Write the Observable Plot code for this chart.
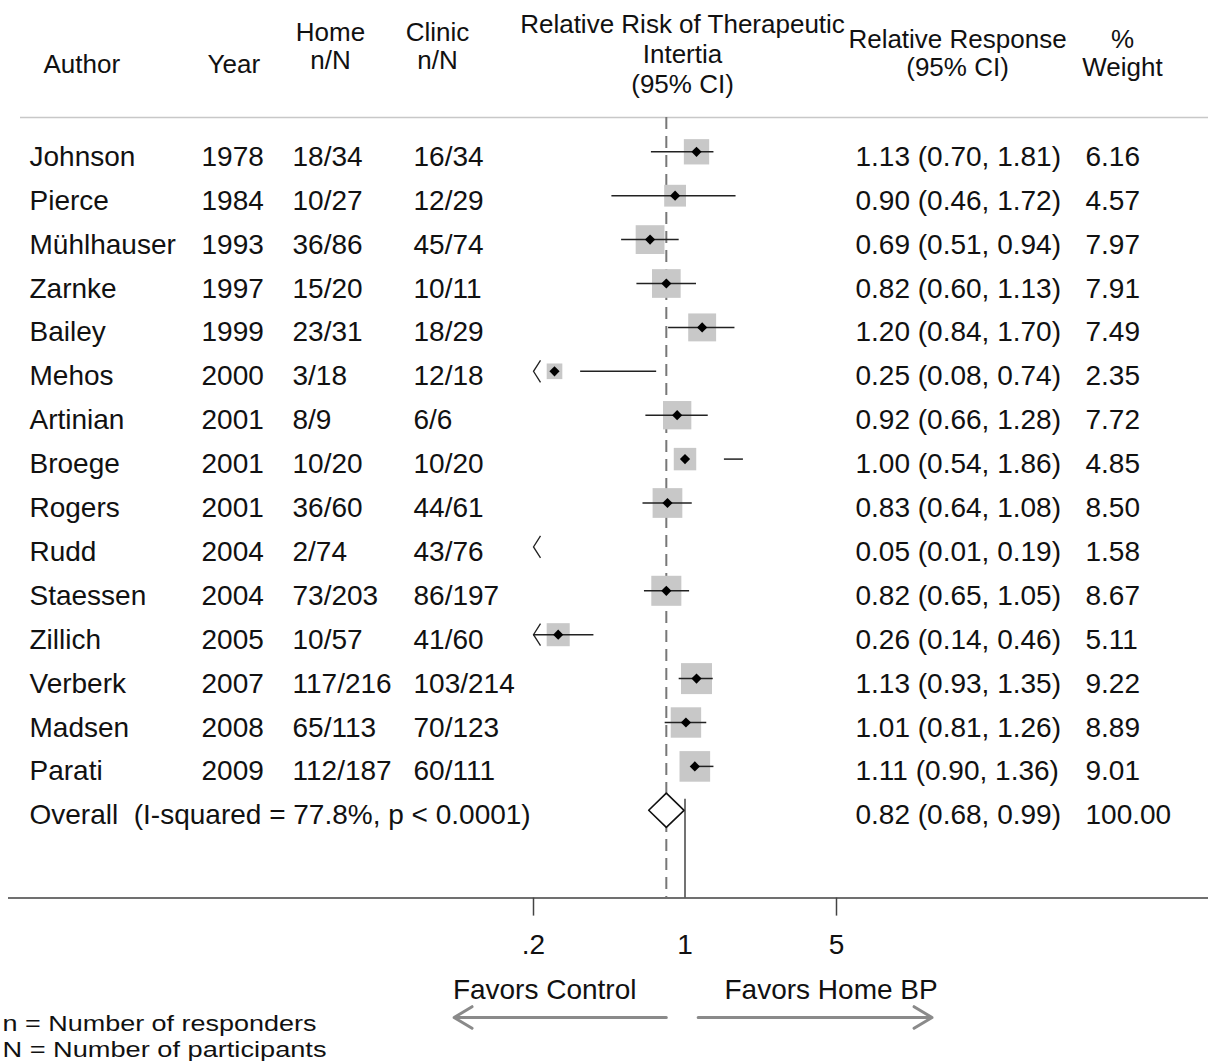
<!DOCTYPE html>
<html><head><meta charset="utf-8">
<script src="https://cdn.jsdelivr.net/npm/d3@7"></script>
<script src="https://cdn.jsdelivr.net/npm/@observablehq/plot@0.6"></script>
<style>body{margin:0;background:#fff;} #chart svg{display:block}</style>
</head><body><div id="chart"></div>
<script>
// ---- data ----
const authors = ["Johnson","Pierce","Mühlhauser","Zarnke","Bailey","Mehos","Artinian","Broege","Rogers","Rudd","Staessen","Zillich","Verberk","Madsen","Parati"];
const years = [1978,1984,1993,1997,1999,2000,2001,2001,2001,2004,2004,2005,2007,2008,2009];
const homeNN = ["18/34","10/27","36/86","15/20","23/31","3/18","8/9","10/20","36/60","2/74","73/203","10/57","117/216","65/113","112/187"];
const clinicNN = ["16/34","12/29","45/74","10/11","18/29","12/18","6/6","10/20","44/61","43/76","86/197","41/60","103/214","70/123","60/111"];
const relResp = [1.13,0.90,0.69,0.82,1.20,0.25,0.92,1.00,0.83,0.05,0.82,0.26,1.13,1.01,1.11];
const ciLow  = [0.70,0.46,0.51,0.60,0.84,0.08,0.66,0.54,0.64,0.01,0.65,0.14,0.93,0.81,0.90];
const ciHigh = [1.81,1.72,0.94,1.13,1.70,0.74,1.28,1.86,1.08,0.19,1.05,0.46,1.35,1.26,1.36];
const weights = [6.16,4.57,7.97,7.91,7.49,2.35,7.72,4.85,8.50,1.58,8.67,5.11,9.22,8.89,9.01];
// CI segments as they are visibly drawn in the picture (some are partly missing)
const drawnLow  = [0.70,0.46,0.51,0.60,0.84,0.33,0.66,1.52,0.64,null,0.65,0.20,0.94,0.81,1.11];
const drawnHigh = [1.36,1.72,0.94,1.13,1.70,0.74,1.28,1.86,1.08,null,1.05,0.38,1.35,1.26,1.36];
const overallLabel = "Overall\u00a0\u00a0(I-squared = 77.8%, p < 0.0001)";
const overallRR = 0.82, overallLow = 0.68, overallHigh = 0.99, overallWeight = 100.00;
const tickValues = [0.2, 1, 5];
const tickLabels = [".2", "1", "5"];
const favorsLabels = ["Favors Control", "Favors Home BP"];
const arrowFrom = [0.82, 1.15];
const arrowTo = [0.086, 13.8];
const footnotes = ["n = Number of responders", "N = Number of participants"];
const headers = {
  author: "Author", year: "Year", home: "Home\nn/N", clinic: "Clinic\nn/N",
  risk: "Relative Risk of Therapeutic\nIntertia\n(95% CI)",
  resp: "Relative Response\n(95% CI)", weight: "%\nWeight"
};

// ---- layout ----
const xMin = 0.2;
const overallRow = authors.length;        // 15
const axisRow = overallRow + 2;           // 17
const headerRow = -0.78;
const arrowRow = axisRow + 2.72;
const fmtTick = d => tickLabels[tickValues.indexOf(d)];
const f2 = v => v.toFixed(2);

const rows = authors.map((a, i) => ({
  row: i, author: a, year: String(years[i]), home: homeNN[i], clinic: clinicNN[i],
  rr: relResp[i], lo: ciLow[i], hi: ciHigh[i], w: weights[i],
  dLo: drawnLow[i], dHi: drawnHigh[i],
  resp: `${f2(relResp[i])} (${f2(ciLow[i])}, ${f2(ciHigh[i])})`, wt: f2(weights[i])
}));
const overall = [{row: overallRow, author: overallLabel,
  resp: `${f2(overallRR)} (${f2(overallLow)}, ${f2(overallHigh)})`, wt: f2(overallWeight)}];
const dh = 0.39;
const diamond = [
  {x: overallLow, y: overallRow}, {x: overallRR, y: overallRow - dh},
  {x: overallHigh, y: overallRow}, {x: overallRR, y: overallRow + dh},
  {x: overallLow, y: overallRow}
];
const chevron = {draw(ctx) { ctx.moveTo(7, -11); ctx.lineTo(0, 0); ctx.lineTo(7, 11); }};

const FS = 28, HFS = 26;
const col = (field, dx, data = rows) => Plot.text(data, {
  y: "row", text: field, frameAnchor: "left", dx, textAnchor: "start",
  lineAnchor: "bottom", dy: 14, fontSize: FS, fill: "#111"
});
const head = (txt, dx, anchor, lastBaseline, lh) => Plot.text([txt], {
  frameAnchor: "top-left", dx, dy: lastBaseline - 117, textAnchor: anchor,
  lineAnchor: "bottom", lineHeight: lh, fontSize: HFS, fill: "#111"
});
const foot = (txt, baseline) => Plot.text([txt], {
  frameAnchor: "bottom-left", dx: 2, dy: baseline - 897.6, textAnchor: "start",
  lineAnchor: "bottom", fontSize: 22, fill: "#111", className: "footnote"
});

const chart = Plot.plot({
  width: 1208, height: 1061,
  marginTop: 117, marginBottom: 163.4, marginLeft: 0, marginRight: 0,
  style: {fontFamily: "'Liberation Sans', Arial, Helvetica, sans-serif", background: "white", color: "#111"},
  x: {type: "log", domain: [0.2, 5], range: [533, 836], label: null, axis: null},
  y: {domain: [0, axisRow], range: [151.3, 897.6], axis: null},
  r: {type: "sqrt", domain: [0, 10], range: [0, 18.2]},
  marks: [
    // header rule and axis line
    Plot.ruleY([headerRow], {stroke: "#c8c8c8", strokeWidth: 1.5, insetLeft: 20}),
    Plot.ruleY([axisRow], {stroke: "#707070", strokeWidth: 2, insetLeft: 8}),
    // dashed overall line, null line
    Plot.ruleX([overallRR], {y1: headerRow, y2: axisRow, stroke: "#777", strokeWidth: 2, strokeDasharray: "12,7"}),
    Plot.ruleX([1], {y1: overallRow - 0.25, y2: axisRow, stroke: "#444", strokeWidth: 1.5}),
    // weight boxes
    Plot.dot(rows.filter(d => d.rr >= xMin), {x: "rr", y: "row", r: "w", symbol: "square", fill: "#c8c8c8", stroke: "none"}),
    // CI whiskers
    Plot.ruleY(rows.filter(d => d.dLo != null), {y: "row", x1: "dLo", x2: "dHi", stroke: "#222", strokeWidth: 1.5}),
    // off-scale markers
    Plot.dot(rows.filter(d => d.lo < xMin), {x: () => xMin, y: "row", symbol: chevron, fill: "none", stroke: "#222", strokeWidth: 1.3}),
    // point estimates
    Plot.dot(rows.filter(d => d.rr >= xMin), {x: "rr", y: "row", r: 4.6, symbol: "diamond2", fill: "black", stroke: "none"}),
    // overall diamond
    Plot.line(diamond, {x: "x", y: "y", stroke: "#111", strokeWidth: 1.6, fill: "white"}),
    // axis
    Plot.axisX({anchor: "bottom", ticks: [0.2, 5], tickFormat: fmtTick, tickSize: 18, tickPadding: 18.5, fontSize: FS, stroke: "#444", strokeWidth: 1.5, fill: "#111", label: null}),
    Plot.axisX({anchor: "bottom", ticks: [1], tickFormat: fmtTick, tickSize: 0, tickPadding: 36.5, fontSize: FS, fill: "#111", label: null}),
    // table columns
    col("author", 29), col("year", 201), col("home", 292), col("clinic", 413),
    col("resp", 855), col("wt", 1085),
    col("author", 29, overall), col("resp", 855, overall), col("wt", 1085, overall),
    // headers
    head(headers.author, 43, "start", 72, 1),
    head(headers.year, 207, "start", 72, 1),
    head(headers.home, 330, "middle", 68, 1.077),
    head(headers.clinic, 437, "middle", 68, 1.077),
    head(headers.risk, 682, "middle", 92, 1.135),
    head(headers.resp, 957, "middle", 75, 1.077),
    head(headers.weight, 1122, "middle", 75, 1.077),
    // favors labels and arrows
    Plot.text([favorsLabels[0]], {frameAnchor: "bottom-left", dx: 636, dy: 100.4, textAnchor: "end", lineAnchor: "bottom", fontSize: FS, fill: "#111"}),
    Plot.text([favorsLabels[1]], {frameAnchor: "bottom-left", dx: 724, dy: 100.4, textAnchor: "start", lineAnchor: "bottom", fontSize: FS, fill: "#111"}),
    Plot.arrow(arrowFrom.map((f, i) => ({from: f, to: arrowTo[i]})), {x1: "from", x2: "to", y1: arrowRow, y2: arrowRow, stroke: "#8a8a8a", strokeWidth: 3, headLength: 10.5, headAngle: 62}),
    // footnotes
    foot(footnotes[0], 1030), foot(footnotes[1], 1056)
  ]
});
// the reference's footnote lettering is wide and short: stretch glyphs horizontally
d3.select(chart).selectAll("g.footnote text").each(function (d, i, nodes) {
  const widths = [316, 326];
  const idx = d3.select(chart).selectAll("g.footnote text").nodes().indexOf(this);
  this.setAttribute("textLength", widths[idx] - 2);
  this.setAttribute("lengthAdjust", "spacingAndGlyphs");
});
document.getElementById("chart").append(chart);
</script>
</body></html>
